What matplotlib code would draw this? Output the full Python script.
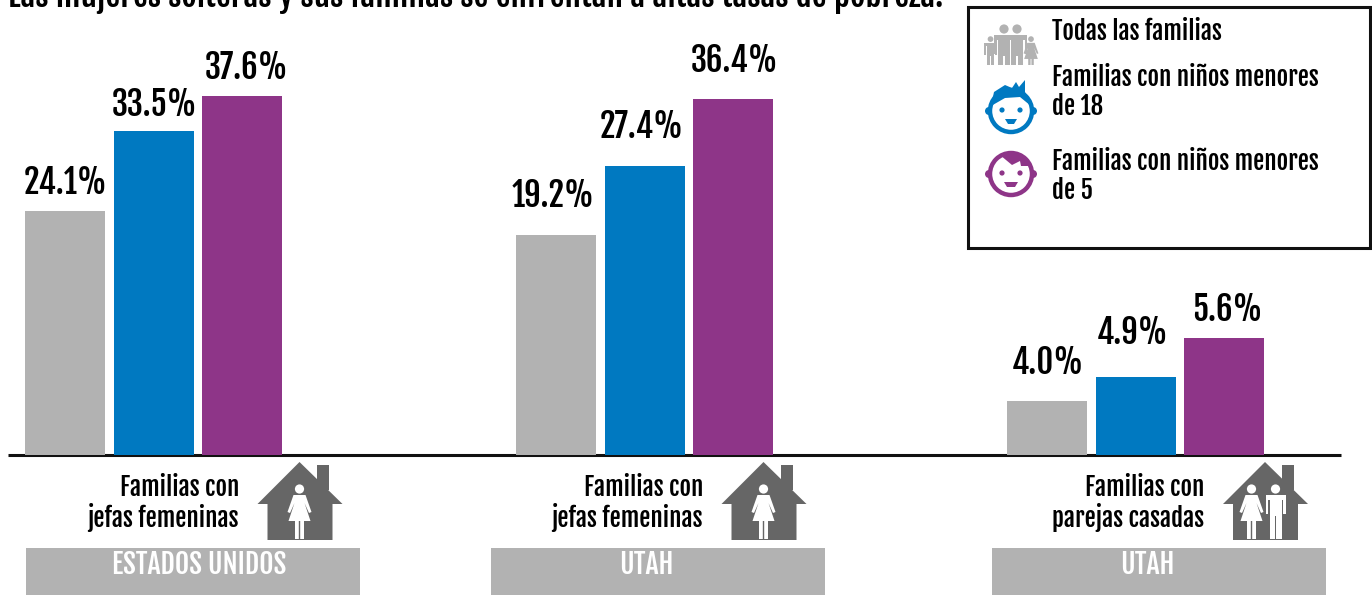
import matplotlib
matplotlib.use('Agg')
from matplotlib import pyplot as plt
from matplotlib.patches import Circle, Ellipse, Polygon, Rectangle

# printed labels
labels = [['24.1%', '33.5%', '37.6%'],
          ['19.2%', '27.4%', '36.4%'],
          ['4.0%', '4.9%', '5.6%']]
# bar lengths as measured on the picture, the drawn bars do not follow the labels exactly
bars_all = [25.5, 23.0, 5.65]
bars_18 = [33.9, 30.3, 8.15]
bars_5 = [37.6, 37.3, 12.25]
colors = ['#b2b2b2', '#0079c1', '#8e3588']

groups = ['Familias con\njefas femeninas', 'Familias con\njefas femeninas', 'Familias con\nparejas casadas']
places = ['ESTADOS UNIDOS', 'UTAH', 'UTAH']
title = 'Las mujeres solteras y sus familias se enfrentan a altas tasas de pobreza:'
legend_names = ['Todas las familias', 'Familias con niños menores\nde 18', 'Familias con niños menores\nde 5']

W, H = 1372, 595
FONT = ['Fjalla One', 'Liberation Sans', 'DejaVu Sans']
DARK = '#666666'
GREY = '#b2b2b2'

fig = plt.figure(figsize=(W / 100, H / 100), dpi=100)

# overlay in pixel coordinates for boxes and icons
bg = fig.add_axes([0, 0, 1, 1])
bg.set_xlim(0, W)
bg.set_ylim(H, 0)
bg.axis('off')

# bars
base_y = 455
ax = fig.add_axes([0, 1 - base_y / H, 1, base_y / H])
ax.set_xlim(0, W)
ax.set_ylim(0, base_y / 9.55)
ax.axis('off')
ax.patch.set_alpha(0)

centers = [153.5, 644.5, 1135.5]
# the labels sit unevenly over their bars in the original
label_dx = [[1, 1, 4], [-3.5, -2.5, 1], [1, -3, 3.5]]
label_dy = [[17, 15, 17], [28, 28, 27], [27, 33, 17]]
for i, c in enumerate(centers):
    heights = [bars_all[i], bars_18[i], bars_5[i]]
    xs = [c - 88.5, c, c + 88.5]
    ax.bar(xs, heights, width=80, color=colors)
    for j, (x, h, s) in enumerate(zip(xs, heights, labels[i])):
        ax.annotate(s, (x, h), xytext=(label_dx[i][j], label_dy[i][j]), textcoords='offset pixels',
                    ha='center', va='baseline', fontsize=23.5, family=FONT, color='black')

bg.plot([8, 1341], [455, 455], color='#111111', lw=2.2, solid_capstyle='butt', zorder=5)


def woman(cx, color='white', top=484, bottom=539, s=1.0, z=3):
    bg.add_patch(Circle((cx, top + 5 * s), 4.6 * s, color=color, lw=0, zorder=z))
    bg.add_patch(Polygon([(cx - 6 * s, top + 11 * s), (cx + 6 * s, top + 11 * s), (cx + 12 * s, top + 28 * s),
                          (cx + 9.5 * s, top + 29 * s), (cx + 5 * s, top + 19 * s), (cx + 11 * s, top + 37 * s),
                          (cx + 4.5 * s, top + 37 * s), (cx + 4.5 * s, bottom), (cx + 0.7 * s, bottom),
                          (cx + 0.7 * s, top + 37 * s), (cx - 0.7 * s, top + 37 * s), (cx - 0.7 * s, bottom),
                          (cx - 4.5 * s, bottom), (cx - 4.5 * s, top + 37 * s), (cx - 11 * s, top + 37 * s),
                          (cx - 5 * s, top + 19 * s), (cx - 9.5 * s, top + 29 * s), (cx - 12 * s, top + 28 * s)],
                         color=color, lw=0, zorder=z))


def man(cx, color='white', top=484, bottom=539, s=1.0, z=3):
    bg.add_patch(Circle((cx, top + 5 * s), 4.6 * s, color=color, lw=0, zorder=z))
    bg.add_patch(Polygon([(cx - 10 * s, top + 11 * s), (cx + 10 * s, top + 11 * s), (cx + 10 * s, top + 30 * s),
                          (cx + 7.5 * s, top + 30 * s), (cx + 7.5 * s, top + 16 * s), (cx + 6 * s, top + 16 * s),
                          (cx + 6 * s, bottom), (cx + 0.7 * s, bottom), (cx + 0.7 * s, top + 32 * s),
                          (cx - 0.7 * s, top + 32 * s), (cx - 0.7 * s, bottom), (cx - 6 * s, bottom),
                          (cx - 6 * s, top + 16 * s), (cx - 7.5 * s, top + 16 * s), (cx - 7.5 * s, top + 30 * s),
                          (cx - 10 * s, top + 30 * s)], color=color, lw=0, zorder=z))


def house(cx):
    bg.add_patch(Rectangle((cx + 17, 465), 12, 25, color=DARK, lw=0))
    bg.add_patch(Polygon([(cx, 462), (cx + 43, 504), (cx + 33, 504), (cx + 33, 540), (cx - 32, 540),
                          (cx - 32, 504), (cx - 42, 504)], color=DARK, lw=0))


house(299.5)
woman(299.5)
house(763.5)
woman(763.5)
house(1265)
woman(1251.5)
man(1275.5)

group_right = [239, 703, 1204]
band_left = [26, 491, 992]
place_x = [199.5, 646.5, 1147.5]
for name, place, r, l, px in zip(groups, places, group_right, band_left, place_x):
    bg.text(r, 503, name, ha='right', va='center', fontsize=18, family=FONT,
            linespacing=1.1, color='black')
    bg.add_patch(Rectangle((l, 548), 334, 47, color=GREY, lw=0))
    bg.text(px, 564, place, ha='center', va='center', fontsize=20, family=FONT,
            color='white')

bg.text(8, 7, title, ha='left', va='baseline', fontsize=24, family=FONT, color='black',
        clip_on=False)

# legend box
bg.add_patch(Rectangle((967.5, 6.5), 402, 241, facecolor='white', edgecolor='#111111', lw=2.2, zorder=2))

# family icon
man(990.5, color=GREY, top=36, bottom=65, s=0.62)
woman(1031, color=GREY, top=36, bottom=65, s=0.62)
man(1004, color=GREY, top=24, bottom=65)
man(1017, color=GREY, top=24, bottom=65)


def face(cy, color):
    items = [Circle((989, cy), 4, color=color, lw=0), Circle((1033, cy), 4, color=color, lw=0),
             Ellipse((1011, cy), 42, 42, facecolor='white', edgecolor=color, lw=3.2),
             Circle((1002, cy - 1), 2.6, color=color, lw=0), Circle((1020, cy - 1), 2.6, color=color, lw=0)]
    for it in items:
        it.set_zorder(3)
        bg.add_patch(it)


face(111, colors[1])
bg.add_patch(Polygon([(991, 106), (994, 92), (1005, 85), (1012, 88), (1016, 82), (1019, 87), (1025, 80),
                      (1025, 92), (1031, 106), (1020, 97), (1005, 98)], color=colors[1], lw=0, zorder=4))
bg.add_patch(Polygon([(1005, 119), (1017, 119), (1014, 124), (1008, 124)], color=colors[1], lw=0, zorder=4))

face(174, colors[2])
bg.add_patch(Polygon([(1000, 155), (1020, 153), (1026, 158), (1030, 166), (1021, 166), (1020, 161), (1012, 165),
                      (1006, 160)], color=colors[2], lw=0, zorder=4))
bg.add_patch(Polygon([(1004, 182), (1018, 182), (1015, 187), (1007, 187)], color=colors[2], lw=0, zorder=4))

legend_y = [32, 92, 176]
for s, y in zip(legend_names, legend_y):
    bg.text(1052, y, s, ha='left', va='center', fontsize=18, family=FONT, linespacing=1.1,
            color='black', zorder=4)

fig.savefig('out.png', dpi=100, facecolor='white')
